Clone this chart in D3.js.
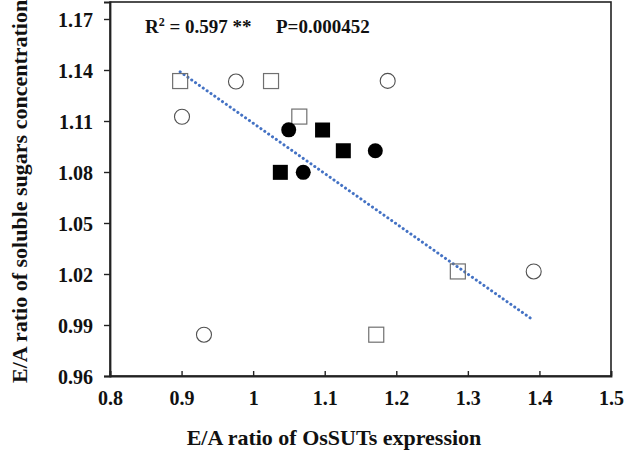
<!DOCTYPE html>
<html><head><meta charset="utf-8">
<script src="https://cdn.jsdelivr.net/npm/d3@7"></script>
<style>body{margin:0;background:#fff}svg{display:block}</style>
</head><body>
<script>
// Data
const openSquaresX = [0.898, 1.025, 1.0645, 1.286, 1.172];
const openSquaresY = [1.1335, 1.1335, 1.1126, 1.0215, 0.9843];
const openCirclesX = [0.976, 0.9006, 1.188, 0.9313, 1.392];
const openCirclesY = [1.1332, 1.1125, 1.1336, 0.9843, 1.0215];
const filledSquaresX = [1.038, 1.097, 1.126];
const filledSquaresY = [1.0798, 1.1047, 1.0925];
const filledCirclesX = [1.0497, 1.070, 1.1707];
const filledCirclesY = [1.1048, 1.0798, 1.0925];
const trendX = [0.898, 1.392];
const trendY = [1.1389, 0.9927];
const xTicks = [0.8, 0.9, 1.0, 1.1, 1.2, 1.3, 1.4, 1.5];
const xTickLabels = ["0.8", "0.9", "1", "1.1", "1.2", "1.3", "1.4", "1.5"];
const yTicks = [0.96, 0.99, 1.02, 1.05, 1.08, 1.11, 1.14, 1.17];
const yTickLabels = ["0.96", "0.99", "1.02", "1.05", "1.08", "1.11", "1.14", "1.17"];
const xTitle = "E/A ratio of OsSUTs expression";
const yTitle = "E/A ratio of soluble sugars concentration";
const r2Text = "0.597 **";
const pText = "P=0.000452";

const W = 624, H = 451;
const L = 110, R = 611, T = 2, B = 376;
const font = "'Liberation Serif','Times New Roman',serif";

const svg = d3.select("body").append("svg").attr("width", W).attr("height", H);
const x = d3.scaleLinear().domain([0.8, 1.5]).range([L, R]);
const y = d3.scaleLinear().domain([0.96, 1.18]).range([B, T]);

// frame (top & right)
svg.append("rect").attr("x", L).attr("y", T).attr("width", R - L).attr("height", B - T)
  .attr("fill", "none").attr("stroke", "#222").attr("stroke-width", 1.6);

// x axis
const xa = svg.append("g").attr("transform", `translate(0,${B})`)
  .call(d3.axisBottom(x).tickValues(xTicks).tickSize(-5).tickPadding(12)
    .tickFormat((d, i) => xTickLabels[i]));
xa.select(".domain").attr("stroke", "#222").attr("stroke-width", 1.8);
xa.selectAll(".tick line").attr("stroke", "#222").attr("stroke-width", 1.4);
xa.selectAll(".tick text").attr("font-family", font).attr("font-weight", "bold")
  .attr("font-size", 20).attr("fill", "#111").attr("dy", "0.85em");

// y axis
const ya = svg.append("g").attr("transform", `translate(${L},0)`)
  .call(d3.axisLeft(y).tickValues(yTicks).tickSize(6).tickPadding(11)
    .tickFormat((d, i) => yTickLabels[i]));
ya.select(".domain").attr("stroke", "#222").attr("stroke-width", 1.8);
ya.selectAll(".tick line").attr("stroke", "#222").attr("stroke-width", 1.4);
ya.selectAll(".tick text").attr("font-family", font).attr("font-weight", "bold")
  .attr("font-size", 20).attr("fill", "#111").attr("dy", "0.35em");

// trend line
svg.append("line")
  .attr("x1", x(trendX[0])).attr("y1", y(trendY[0]))
  .attr("x2", x(trendX[1])).attr("y2", y(trendY[1]))
  .attr("stroke", "#4472C4").attr("stroke-width", 3)
  .attr("stroke-linecap", "round").attr("stroke-dasharray", "0.1 4.6");

const s = 15;
function squares(xs, ys, fill, stroke) {
  svg.append("g").selectAll("rect").data(xs).join("rect")
    .attr("x", (d) => x(d) - s / 2).attr("y", (d, i) => y(ys[i]) - s / 2)
    .attr("width", s).attr("height", s)
    .attr("fill", fill).attr("stroke", stroke).attr("stroke-width", fill === "none" ? 1.2 : 0);
}
function circles(xs, ys, fill, stroke) {
  svg.append("g").selectAll("circle").data(xs).join("circle")
    .attr("cx", (d) => x(d)).attr("cy", (d, i) => y(ys[i])).attr("r", s / 2)
    .attr("fill", fill).attr("stroke", stroke).attr("stroke-width", fill === "none" ? 1.1 : 0);
}
squares(openSquaresX, openSquaresY, "none", "#707070");
circles(openCirclesX, openCirclesY, "none", "#505050");
squares(filledSquaresX, filledSquaresY, "#000", "#000");
circles(filledCirclesX, filledCirclesY, "#000", "#000");

// annotation
const ann = svg.append("text").attr("x", 145).attr("y", 33)
  .attr("font-family", font).attr("font-weight", "bold").attr("font-size", 19).attr("fill", "#111");
ann.append("tspan").text("R");
ann.append("tspan").text("2").attr("font-size", 12).attr("dy", -7);
ann.append("tspan").text(" = " + r2Text).attr("dy", 7);
svg.append("text").attr("x", 276).attr("y", 33).text(pText)
  .attr("font-family", font).attr("font-weight", "bold").attr("font-size", 19).attr("fill", "#111");

// axis titles
svg.append("text").attr("x", 334).attr("y", 445).attr("text-anchor", "middle")
  .text(xTitle).attr("font-family", font).attr("font-weight", "bold").attr("font-size", 22).attr("fill", "#111");
svg.append("text").attr("transform", `translate(27,383) rotate(-90)`)
  .attr("text-anchor", "start").text(yTitle)
  .attr("font-family", font).attr("font-weight", "bold").attr("font-size", 22).attr("fill", "#111");
</script>
</body></html>
